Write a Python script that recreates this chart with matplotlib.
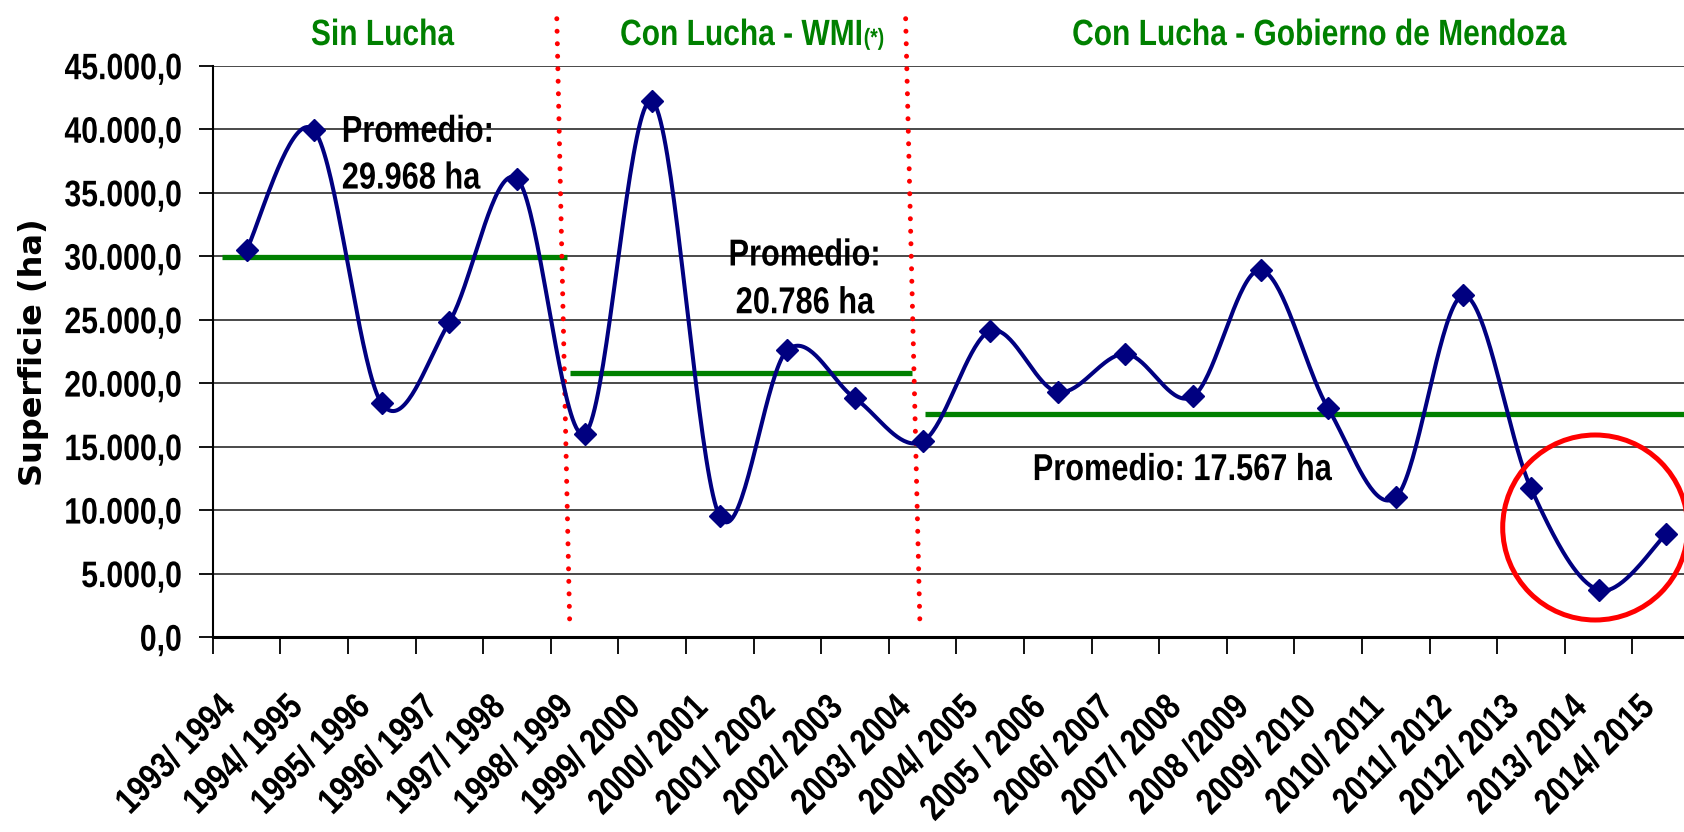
import numpy as np
import matplotlib
matplotlib.use("Agg")
import matplotlib.pyplot as plt
import matplotlib.transforms as mtransforms
from matplotlib.patches import Ellipse
from matplotlib.patheffects import AbstractPathEffect
from matplotlib.ticker import FixedLocator, FuncFormatter

# ---- data -------------------------------------------------------------
seasons = ["1993/ 1994", "1994/ 1995", "1995/ 1996", "1996/ 1997", "1997/ 1998",
           "1998/ 1999", "1999/ 2000", "2000/ 2001", "2001/ 2002", "2002/ 2003",
           "2003/ 2004", "2004/ 2005", "2005 / 2006", "2006/ 2007", "2007/ 2008",
           "2008 /2009", "2009/ 2010", "2010/ 2011", "2011/ 2012", "2012/ 2013",
           "2013/ 2014", "2014/ 2015"]
superficie = [30500, 39900, 18400, 24800, 36100, 16000, 42200, 9500, 22600, 18800,
              15400, 24100, 19300, 22300, 18950, 28900, 18000, 11000, 26900, 11700,
              3700, 8100]

period_titles = ["Sin Lucha", "Con Lucha - WMI", "Con Lucha - Gobierno de Mendoza"]
period_notes = ["", "(*)", ""]
promedios = [29968, 20786, 17567]
promedio_labels = ["Promedio:\n29.968 ha", "Promedio:\n20.786 ha", "Promedio: 17.567 ha"]

y_ticks = [0, 5000, 10000, 15000, 20000, 25000, 30000, 35000, 40000, 45000]
y_label = "Superficie (ha)"

# ---- style ------------------------------------------------------------
FONT = ["Liberation Sans", "DejaVu Sans"]
NAVY = "#000080"
GREEN = "#008000"
RED = "#ff0000"


class Narrow(AbstractPathEffect):
    """Draw glyphs horizontally condensed, keeping the text's alignment point."""

    def __init__(self, sx=0.82, align="left"):
        super().__init__()
        self.sx = sx
        self.frac = {"left": 0.0, "center": 0.5, "right": 1.0}[align]

    def draw_path(self, renderer, gc, tpath, affine, rgbFace=None):
        v = tpath.vertices
        w = float(v[:, 0].max()) if len(v) else 0.0
        squeeze = mtransforms.Affine2D().scale(self.sx, 1.0).translate(
            (1 - self.sx) * w * self.frac, 0.0)
        renderer.draw_path(gc, tpath, squeeze + affine, rgbFace)


def smooth_curve(xv, yv, n=40):
    """Cubic Bezier smoothing through every point (Catmull-Rom tangents)."""
    xv = np.asarray(xv, float)
    yv = np.asarray(yv, float)
    px = np.concatenate([[xv[0]], xv, [xv[-1]]])
    py = np.concatenate([[yv[0]], yv, [yv[-1]]])
    t = np.linspace(0, 1, n, endpoint=False)[:, None]
    out = []
    for k in range(1, len(px) - 2):
        p0 = np.array([px[k - 1], py[k - 1]])
        p1 = np.array([px[k], py[k]])
        p2 = np.array([px[k + 1], py[k + 1]])
        p3 = np.array([px[k + 2], py[k + 2]])
        c1 = p1 + (p2 - p0) / 6.0
        c2 = p2 - (p3 - p1) / 6.0
        seg = ((1 - t) ** 3) * p1 + 3 * ((1 - t) ** 2) * t * c1 \
            + 3 * (1 - t) * t ** 2 * c2 + t ** 3 * p2
        out.append(seg)
    out.append(np.array([[xv[-1], yv[-1]]]))
    pts = np.vstack(out)
    return pts[:, 0], pts[:, 1]


fig = plt.figure(figsize=(16.84, 8.32), dpi=100)
fig.patch.set_facecolor("white")
W, H = 1684.0, 832.0
ax_left, ax_right, ax_top, ax_bottom = 212.7, 1700.0, 65.7, 637.0
ax = fig.add_axes([ax_left / W, 1 - ax_bottom / H,
                   (ax_right - ax_left) / W, (ax_bottom - ax_top) / H])

n = len(seasons)
x = np.arange(n)
ax.set_xlim(-0.5, n - 0.5)
ax.set_ylim(0, 45000)

# gridlines
for yt in y_ticks[1:]:
    ax.axhline(yt, color="#3a3a3a", lw=1.3, zorder=1)

# period averages
avg_spans = [(-0.36, 4.74), (4.79, 9.84), (10.03, 21.6)]
for (x0, x1), val in zip(avg_spans, promedios):
    ax.plot([x0, x1], [val, val], color=GREEN, lw=3.8, zorder=3,
            solid_capstyle="butt", clip_on=False)

# period separators
for (xt, xb) in [(4.59, 4.78), (9.75, 9.96)]:
    ax.plot([xt, xb], [48700, 1260], color=RED, lw=3.6,
            linestyle=(0, (0.001, 2.5)), dash_capstyle="round",
            zorder=4, clip_on=False)

# smoothed series with diamond markers
sx, sy = smooth_curve(x, superficie)
ax.plot(sx, sy, color=NAVY, lw=2.9, zorder=5, solid_joinstyle="round")
ax.plot(x, superficie, linestyle="none", marker="D", ms=11.5,
        color=NAVY, mec=NAVY, zorder=6, clip_on=False)

# highlight of the last seasons
circ = Ellipse((19.95, 8625), width=2 * 92.5 / 67.6, height=2 * 92.5 / 571.3 * 45000,
               fill=False, edgecolor=RED, lw=3.6, zorder=7, clip_on=False)
ax.add_patch(circ)

# spines and ticks
for s in ("top", "right"):
    ax.spines[s].set_visible(False)
ax.spines["left"].set_linewidth(1.5)
ax.spines["bottom"].set_linewidth(2.2)
ax.spines["left"].set_zorder(8)
ax.spines["bottom"].set_zorder(8)

ax.yaxis.set_major_locator(FixedLocator(y_ticks))
ax.yaxis.set_major_formatter(FuncFormatter(
    lambda v, p: f"{v:,.1f}".replace(",", "X").replace(".", ",").replace("X", ".")))
ax.tick_params(axis="y", direction="out", length=10, width=1.3, pad=12)
for lab in ax.get_yticklabels():
    lab.set_fontfamily(FONT)
    lab.set_fontweight("bold")
    lab.set_fontsize(26.5)
    lab.set_path_effects([Narrow(0.82, "right")])

ax.set_xticks(np.arange(-0.5, n, 1.0), minor=True)
ax.set_xticks(x)
ax.set_xticklabels([])
ax.tick_params(axis="x", which="minor", direction="out", length=12, width=1.3)
ax.tick_params(axis="x", which="major", length=0)

offset = mtransforms.ScaledTranslation(-21 / 72, -38 / 72, fig.dpi_scale_trans)
xtrans = ax.get_xaxis_transform() + offset
for xi, lab in zip(x, seasons):
    ax.text(xi, 0, lab, transform=xtrans, rotation=45, rotation_mode="anchor",
            ha="right", va="top", fontsize=26.5, fontweight="bold",
            family=FONT, color="black", path_effects=[Narrow(0.82, "right")])

# axis label
fig.text(34 / W, 1 - 352 / H, y_label, rotation=90, ha="center", va="center",
         fontsize=23, fontweight="bold", family="DejaVu Sans")

# period titles
title_y = 46630
ax.text(2.01, title_y, period_titles[0], ha="center", va="baseline", color=GREEN,
        fontsize=26.3, fontweight="bold", family=FONT, clip_on=False,
        path_effects=[Narrow(0.82, "center")])
ax.text(9.12, title_y, period_titles[1], ha="right", va="baseline", color=GREEN,
        fontsize=26.3, fontweight="bold", family=FONT, clip_on=False,
        path_effects=[Narrow(0.82, "right")])
ax.annotate(period_notes[1], xy=(9.12, title_y), xycoords="data",
            xytext=(0.5, 0), textcoords="offset points", ha="left", va="baseline",
            color=GREEN, fontsize=17, fontweight="bold", family=FONT,
            annotation_clip=False, path_effects=[Narrow(0.82, "left")])
ax.text(15.86, title_y, period_titles[2], ha="center", va="baseline", color=GREEN,
        fontsize=26.3, fontweight="bold", family=FONT, clip_on=False,
        path_effects=[Narrow(0.82, "center")])

# average labels
ax.text(1.41, 37950, promedio_labels[0], ha="left", va="center", fontsize=27,
        fontweight="bold", family=FONT, linespacing=1.38, zorder=9,
        path_effects=[Narrow(0.82, "left")])
ax.text(8.26, 28170, promedio_labels[1], ha="center", va="center", fontsize=27,
        fontweight="bold", family=FONT, linespacing=1.42, zorder=9,
        path_effects=[Narrow(0.82, "center")])
ax.text(11.63, 13150, promedio_labels[2], ha="left", va="center", fontsize=27,
        fontweight="bold", family=FONT, zorder=9,
        path_effects=[Narrow(0.82, "left")])

fig.savefig("out.png", dpi=100, facecolor="white")
